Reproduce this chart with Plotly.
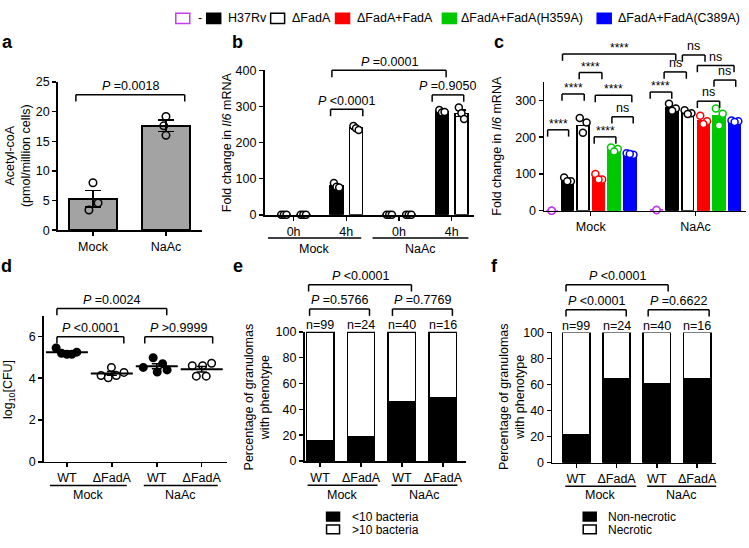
import plotly.graph_objects as go

W, H = 749, 548
FONT = "Liberation Sans, Arial, Helvetica, sans-serif"
FS_TICK = 12.5
FS_TXT = 12.5
MAGENTA = "#c43cf5"
RED = "#ff0000"
GREEN = "#00c800"
BLUE = "#0000ff"
GRAY = "#a3a3a3"

# ---------------- data ----------------
# (a) Acetyl-coA
A_CATS = ["Mock", "NaAc"]
A_MEAN = [5.3, 17.6]
A_SEM = [1.4, 0.95]
A_DOTS = [[8.0, 4.6, 3.4], [19.2, 17.6, 16.0]]

# (b) Il6 fold change, H37Rv vs dFadA
B_TIME = ["0h", "4h", "0h", "4h"]
B_TREAT = ["Mock", "NaAc"]
B_H37RV = [1, 80, 1, 285]
B_H37RV_SEM = [0, 3.5, 0, 2.5]
B_FADA = [1, 240, 1, 281]
B_FADA_SEM = [0, 3, 0, 9]
B_H37RV_DOTS = [[0, 0, 0], [88, 78, 76], [0, 0, 0], [290, 283, 285]]
B_FADA_DOTS = [[0, 0, 0], [246, 240, 235], [0, 0, 0], [297, 281, 265]]

# (c) Il6 fold change, complemented strains
C_TREAT = ["Mock", "NaAc"]
C_STRAINS = ["-", "H37Rv", "ΔFadA", "ΔFadA+FadA", "ΔFadA+FadA(H359A)", "ΔFadA+FadA(C389A)"]
C_NONE = [0, 2]
C_H37RV = [83, 280]
C_FADA = [232, 266]
C_COMP = [90, 246]
C_H359A = [167, 258]
C_C389A = [154, 243]
C_NONE_DOTS = [[0, 0, 0], [2, 2, 2]]
C_H37RV_DOTS = [[90, 80, 80], [291, 278, 272]]
C_FADA_DOTS = [[252, 240, 212], [273, 265, 263]]
C_COMP_DOTS = [[100, 85, 85], [258, 243, 236]]
C_H359A_DOTS = [[172, 168, 161], [278, 264, 232]]
C_C389A_DOTS = [[156, 152, 154], [245, 243, 241]]

# (d) log10 CFU
D_CATS = ["WT", "ΔFadA", "WT", "ΔFadA"]
D_TREAT = ["Mock", "NaAc"]
D_DOTS = [[5.45, 5.2, 5.15, 5.15, 5.25],
          [4.13, 4.02, 4.52, 4.13, 4.28],
          [4.52, 4.98, 4.3, 4.7, 4.4],
          [4.6, 4.6, 4.72, 4.1, 4.1]]
D_MEAN = [5.25, 4.23, 4.57, 4.43]
D_SEM = [0.06, 0.09, 0.12, 0.13]

# (e) bacterial burden per granuloma (%)
E_CATS = ["WT", "ΔFadA", "WT", "ΔFadA"]
E_N = ["n=99", "n=24", "n=40", "n=16"]
E_LOW = [15.6, 18.6, 46.2, 49.0]          # <10 bacteria
E_HIGH = [100 - v for v in E_LOW]         # >10 bacteria

# (f) necrosis per granuloma (%)
F_CATS = ["WT", "ΔFadA", "WT", "ΔFadA"]
F_N = ["n=99", "n=24", "n=40", "n=16"]
F_NONNEC = [21.7, 64.6, 60.4, 64.6]
F_NEC = [100 - v for v in F_NONNEC]

# statistics brackets: (panel, x0, x1, y, label)
BRACKETS = [
    ("a", -0.234, 1.257, 22.86, "<i>P</i> =0.0018"),
    ("b", 0.701, 1.313, 292, "<i>P</i> &lt;0.0001"),
    ("b", 2.629, 3.228, 332, "<i>P</i> =0.9050"),
    ("b", 0.726, 2.894, 400, "<i>P</i> =0.0001"),
    ("c", -0.411, -0.211, 220, "****"),
    ("c", -0.274, -0.062, 317.5, "****"),
    ("c", -0.110, 0.107, 375.9, "****"),
    ("c", 0.043, 0.392, 313.8, "****"),
    ("c", 0.202, 0.405, 255.4, "ns"),
    ("c", 0.033, 0.240, 200.8, "****"),
    ("c", -0.269, 0.811, 426.3, "****"),
    ("c", 0.567, 0.773, 322.8, "****"),
    ("c", 0.700, 0.912, 377.5, "ns"),
    ("c", 0.874, 1.090, 423.6, "ns"),
    ("c", 1.017, 1.367, 395.2, "ns"),
    ("c", 1.176, 1.383, 355.4, "ns"),
    ("c", 1.017, 1.230, 297.9, "ns"),
    ("d", -0.222, 1.267, 5.99, "<i>P</i> &lt;0.0001"),
    ("d", 1.733, 3.244, 5.99, "<i>P</i> &gt;0.9999"),
    ("d", -0.222, 2.222, 7.34, "<i>P</i> =0.0024"),
    ("e", -0.256, 1.207, 117.6, "<i>P</i> =0.5766"),
    ("e", 1.768, 3.232, 117.6, "<i>P</i> =0.7769"),
    ("e", -0.280, 2.232, 136.4, "<i>P</i> &lt;0.0001"),
    ("f", -0.255, 1.240, 117.4, "<i>P</i> &lt;0.0001"),
    ("f", 1.785, 3.298, 117.4, "<i>P</i> =0.6622"),
    ("f", -0.255, 2.281, 136.7, "<i>P</i> &lt;0.0001"),
]

# ---------------- layout geometry (pixels) ----------------
PANELS = {
    "a": dict(n="", px=(58, 202), py=(229, 77), xr=(-0.48, 1.49), yr=(0, 25), dy=5),
    "b": dict(n="2", px=(265, 475), py=(213.3, 65), xr=(-0.55, 3.43), yr=(0, 400), dy=100),
    "c": dict(n="3", px=(545, 747), py=(209, 77), xr=(-0.443, 1.481), yr=(0, 350), dy=100),
    "d": dict(n="4", px=(44, 227), py=(466.7, 316.7), xr=(-0.511, 3.556), yr=(0, 7), dy=2),
    "e": dict(n="5", px=(305, 466.7), py=(466, 333.3), xr=(-0.378, 3.566), yr=(0, 100), dy=20),
    "f": dict(n="6", px=(553, 717), py=(467.7, 334), xr=(-0.596, 3.47), yr=(0, 100), dy=20),
}


def fx(p):
    return p / W


def fy(p):
    return 1 - p / H


def to_px(pn, xv, yv):
    P = PANELS[pn]
    (x0, x1), (y0, y1) = P["px"], P["py"]
    (a0, a1), (b0, b1) = P["xr"], P["yr"]
    return (x0 + (xv - a0) / (a1 - a0) * (x1 - x0),
            y0 + (yv - b0) / (b1 - b0) * (y1 - y0))


def refs(pn):
    n = PANELS[pn]["n"]
    return dict(xaxis="x" + n, yaxis="y" + n)


fig = go.Figure()
shapes, annots = [], []


def pline(x0, y0, x1, y1, w=1.5, color="black"):
    shapes.append(dict(type="line", xref="paper", yref="paper",
                       x0=fx(x0), y0=fy(y0), x1=fx(x1), y1=fy(y1),
                       line=dict(color=color, width=w)))


def ptext(x, y, text, size=FS_TXT, xanchor="center", yanchor="middle", angle=0, bold=False, yshift=0):
    if bold:
        text = "<b>" + text + "</b>"
    annots.append(dict(x=fx(x), y=fy(y), xref="paper", yref="paper", text=text,
                       showarrow=False, xanchor=xanchor, yanchor=yanchor, textangle=angle,
                       font=dict(family=FONT, size=size, color="black"), yshift=yshift,
                       borderpad=0))


def prect(x0, y0, x1, y1, fill, line):
    shapes.append(dict(type="rect", xref="paper", yref="paper",
                       x0=fx(x0), y0=fy(y0), x1=fx(x1), y1=fy(y1),
                       fillcolor=fill, line=dict(color=line, width=1.5)))


def dots(pn, centers, values, jit, size, fill, linecolor, symbol="circle"):
    xs, ys = [], []
    for c, vals, jj in zip(centers, values, jit):
        for v, j in zip(vals, jj):
            xs.append(c + j)
            ys.append(v)
    fig.add_scatter(x=xs, y=ys, mode="markers", cliponaxis=False, showlegend=False,
                    marker=dict(symbol=symbol, size=size, color=fill,
                                line=dict(color=linecolor, width=1.5)), **refs(pn))


# ---- panel a ----
a_x = list(range(len(A_CATS)))
fig.add_bar(x=a_x, y=A_MEAN, width=0.657, showlegend=False,
            marker=dict(color=GRAY, line=dict(color="black", width=1.6)),
            error_y=dict(type="data", array=A_SEM, color="black", thickness=1.6, width=8), **refs("a"))
dots("a", a_x, A_DOTS, [[0.0, 0.07, -0.055], [0.0, -0.03, 0.0]], 7.5,
     "rgba(0,0,0,0)", "black")

# ---- panel b ----
B_OFF, B_W = 0.185, 0.246
b_x = list(range(len(B_TIME)))
fig.add_bar(x=[i - B_OFF for i in b_x], y=B_H37RV, width=B_W, showlegend=False,
            marker=dict(color="black", line=dict(color="black", width=1.5)),
            error_y=dict(type="data", array=B_H37RV_SEM, color="black", thickness=1.5, width=5), **refs("b"))
fig.add_bar(x=[i + B_OFF for i in b_x], y=B_FADA, width=B_W, showlegend=False,
            marker=dict(color="white", line=dict(color="black", width=1.5)),
            error_y=dict(type="data", array=B_FADA_SEM, color="black", thickness=1.5, width=5), **refs("b"))
dots("b", [i - B_OFF for i in b_x], B_H37RV_DOTS, [[-0.05, 0.0, 0.05]] * 4, 7, "white", "black")
dots("b", [i + B_OFF for i in b_x], B_FADA_DOTS, [[-0.05, 0.0, 0.05]] * 4, 7, "white", "black")

# ---- panel c ----
C_STEP, C_W = 0.149, 0.114
c_vals = [C_NONE, C_H37RV, C_FADA, C_COMP, C_H359A, C_C389A]
c_dots = [C_NONE_DOTS, C_H37RV_DOTS, C_FADA_DOTS, C_COMP_DOTS, C_H359A_DOTS, C_C389A_DOTS]
c_fill = ["white", "black", "white", RED, GREEN, BLUE]
c_line = [MAGENTA, "black", "black", RED, GREEN, BLUE]
c_x = list(range(len(C_TREAT)))
for k, (vals, dv, fc, lc) in enumerate(zip(c_vals, c_dots, c_fill, c_line)):
    off = (k - (len(C_STRAINS) - 1) / 2) * C_STEP
    xs = [i + off for i in c_x]
    fig.add_bar(x=xs, y=vals, width=C_W, showlegend=False,
                marker=dict(color=fc, line=dict(color=lc, width=1.5)), **refs("c"))
    jit = [[0.0, 0.0, 0.0]] * 2 if k == 0 else [[-0.03, 0.035, 0.0]] * 2
    dots("c", xs, dv, jit, 7, "white", lc)

# ---- panel d ----
d_x = list(range(len(D_CATS)))
D_JIT = [[-0.24, -0.12, 0.0, 0.11, 0.22],
         [-0.24, -0.08, -0.01, 0.10, 0.27],
         [-0.30, -0.08, 0.01, 0.13, 0.23],
         [-0.21, 0.02, 0.22, -0.12, 0.10]]
for i in d_x:
    wt = D_CATS[i] == "WT"
    dots("d", [i], [D_DOTS[i]], [D_JIT[i]], 7.5, "black" if wt else "white", "black")
fig.add_scatter(x=d_x, y=D_MEAN, mode="markers", cliponaxis=False, showlegend=False,
                marker=dict(symbol="line-ew", size=30, color="black", line=dict(color="black", width=2)),
                error_y=dict(type="data", array=D_SEM, color="black", thickness=1.5, width=5), **refs("d"))

# ---- panels e, f ----
for pn, low, high, w in (("e", E_LOW, E_HIGH, 0.67), ("f", F_NONNEC, F_NEC, 0.68)):
    xs = list(range(len(low)))
    fig.add_bar(x=xs, y=low, width=w, showlegend=False,
                marker=dict(color="black", line=dict(color="black", width=1.5)), **refs(pn))
    fig.add_bar(x=xs, y=high, width=w, showlegend=False,
                marker=dict(color="white", line=dict(color="black", width=1.5)), **refs(pn))
for pn, labels in (("e", E_N), ("f", F_N)):
    for i, t in enumerate(labels):
        X, _ = to_px(pn, i, 0)
        _, Y = to_px(pn, 0, 100)
        ptext(X, Y - 7, t)

# ---- brackets ----
for pn, x0, x1, yv, lab in BRACKETS:
    X0, Y = to_px(pn, x0, yv)
    X1, _ = to_px(pn, x1, yv)
    drop = 7
    pline(X0, Y + drop, X0, Y)
    pline(X0, Y, X1, Y)
    pline(X1, Y, X1, Y + drop)
    if lab == "****":
        ptext((X0 + X1) / 2, Y - 6, lab, size=12)
    else:
        ptext((X0 + X1) / 2, Y - 9, lab)

# ---- group labels under x axes ----
GROUPS = [
    ("b", [(-0.487, 1.283), (1.497, 3.317)], B_TREAT, 237, 248),
    ("d", [(-0.378, 1.333), (1.711, 3.356)], D_TREAT, 491, 500.5),
    ("e", [(-0.305, 1.402), (1.744, 3.354)], D_TREAT, 490.7, 500.5),
    ("f", [(-0.273, 1.488), (1.760, 3.471)], D_TREAT, 491.7, 500.7),
]
for pn, spans, labs, yl, yt in GROUPS:
    for (g0, g1), lab in zip(spans, labs):
        X0, _ = to_px(pn, g0, 0)
        X1, _ = to_px(pn, g1, 0)
        pline(X0, yl, X1, yl, w=1.5)
        ptext((X0 + X1) / 2, yt, lab)

# ---- y-axis titles ----
ptext(18, 152, "Acetyl-coA<br>(pmol/million cells)", size=12.5, angle=-90)
ptext(228, 139, "Fold change in <i>Il6</i> mRNA", size=12.5, angle=-90)
ptext(498, 142, "Fold change in <i>Il6</i> mRNA", size=12.5, angle=-90)
ptext(9, 392, "log<sub>10</sub>[CFU]", size=12.5, angle=-90)
ptext(257, 400, "Percentage of granulomas<br>with phenotype", size=12.5, angle=-90)
ptext(512, 400, "Percentage of granulomas<br>with phenotype", size=12.5, angle=-90)

# ---- panel letters ----
for lab, x, y in (("a", 8, 35.5), ("b", 238, 35.5), ("c", 500, 36), ("d", 7, 265.5), ("e", 238, 266), ("f", 495, 265.5)):
    ptext(x, y, lab, size=18, bold=True)

# ---- top legend ----
LEG_SQ = [176, 207, 271, 336, 443, 598]
LEG_TX = [197, 227, 291, 356, 461, 618]
for k, name in enumerate(C_STRAINS):
    prect(LEG_SQ[k], 6.5, LEG_SQ[k] + 14, 17, c_fill[k], c_line[k])
    ptext(LEG_TX[k], 11.8, name, xanchor="left")

# ---- e / f legends ----
for x_sq, x_tx, names in ((327, 351, ["&lt;10 bacteria", "&gt;10 bacteria"]),
                          (584, 608, ["Non-necrotic", "Necrotic"])):
    prect(x_sq, 518.5, x_sq + 13, 527.5, "black", "black")
    prect(x_sq, 531.5, x_sq + 13, 540.5, "white", "black")
    ptext(x_tx, 523, names[0], xanchor="left", size=12)
    ptext(x_tx, 536.5, names[1], xanchor="left", size=12)

# ---- axes ----
TICKTEXT = {"a": A_CATS, "b": B_TIME, "c": C_TREAT, "d": D_CATS, "e": E_CATS, "f": F_CATS}
layout_axes = {}
for pn, P in PANELS.items():
    n = P["n"]
    common = dict(showline=True, linecolor="black", linewidth=1.7, ticks="outside", ticklen=4,
                  tickwidth=1.5, tickcolor="black", showgrid=False, zeroline=False,
                  tickfont=dict(family=FONT, size=FS_TICK, color="black"), fixedrange=True)
    labs = TICKTEXT[pn]
    layout_axes["xaxis" + n] = dict(common, domain=[fx(P["px"][0]), fx(P["px"][1])],
                                    range=list(P["xr"]), anchor="y" + n,
                                    tickmode="array", tickvals=list(range(len(labs))), ticktext=labs)
    lo, hi = P["yr"]
    tv = list(range(int(lo), int(hi) + 1, P["dy"]))
    layout_axes["yaxis" + n] = dict(common, domain=[fy(P["py"][0]), fy(P["py"][1])],
                                    range=[lo, hi], anchor="x" + n, tickmode="array", tickvals=tv)

fig.update_layout(
    width=W, height=H, autosize=False,
    margin=dict(l=0, r=0, t=0, b=0),
    paper_bgcolor="white", plot_bgcolor="white",
    barmode="stack", showlegend=False, hovermode=False,
    font=dict(family=FONT, size=FS_TXT, color="black"),
    shapes=shapes, annotations=annots,
    **layout_axes,
)

fig.write_html("out.html", config={"displayModeBar": False, "staticPlot": True},
               post_script="document.body.style.margin='0';document.body.style.padding='0';")
